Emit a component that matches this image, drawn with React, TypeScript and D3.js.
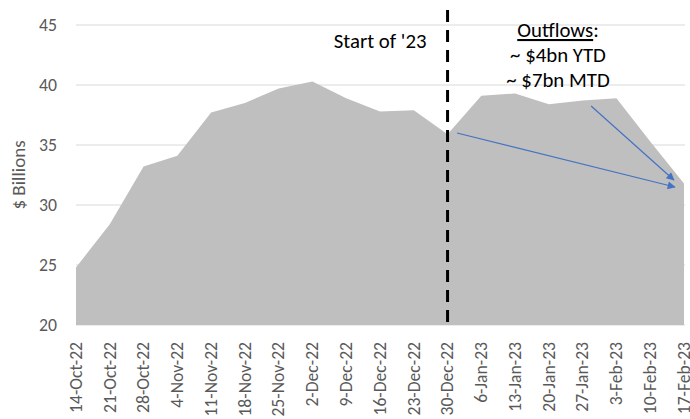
import React from "react";
import * as d3 from "d3";

const dates = ["14-Oct-22","21-Oct-22","28-Oct-22","4-Nov-22","11-Nov-22","18-Nov-22","25-Nov-22","2-Dec-22","9-Dec-22","16-Dec-22","23-Dec-22","30-Dec-22","6-Jan-23","13-Jan-23","20-Jan-23","27-Jan-23","3-Feb-23","10-Feb-23","17-Feb-23"];
const values = [24.8, 28.4, 33.2, 34.1, 37.7, 38.5, 39.7, 40.3, 38.9, 37.8, 37.9, 35.9, 39.1, 39.3, 38.4, 38.7, 38.9, 35.3, 31.8];
const yTicks = [20, 25, 30, 35, 40, 45];
const yTitle = "$ Billions";
const markerLabel = "Start of '23";
const markerIndex = 11;
const noteLines = ["~ $4bn YTD", "~ $7bn MTD"];
const noteTitle = "Outflows";
// arrows as [fromIndex, fromValue, toIndex, toValue]
const arrows = [
  [11.28, 36.0, 17.73, 31.5],
  [15.25, 38.25, 17.7, 32.08],
];

const W = 690, H = 419;
const FONT = "Carlito, Calibri, Lato, sans-serif";

export default function App() {
  const x = d3.scaleLinear().domain([0, dates.length - 1]).range([76, 684]);
  const y = d3.scaleLinear().domain([20, 45]).range([325, 25]);
  const area = d3.area<number>().x((_, i) => x(i)).y0(y(20)).y1((d) => y(d));
  const grid = "#d9d9d9";
  const txt = "#595959";
  const blue = "#4472C4";
  return (
    <div style={{ position: "absolute", left: 0, top: 0 }}>
      <svg width={W} height={H} style={{ display: "block", fontFamily: FONT }}>
        <defs>
          <marker id="ah" viewBox="0 0 10 10" refX="9" refY="5" markerWidth="11" markerHeight="8" markerUnits="userSpaceOnUse" orient="auto">
            <path d="M0,0 L10,5 L0,10 z" fill={blue} />
          </marker>
        </defs>
        <rect width={W} height={H} fill="#fff" />
        {yTicks.map((t) => (
          <g key={t}>
            <line x1={76} x2={685} y1={y(t)} y2={y(t)} stroke={grid} strokeWidth={1} />
            <text x={57} y={y(t)} dy="0.35em" textAnchor="end" fontSize={17.7} fill={txt}>{t}</text>
          </g>
        ))}
        <path d={area(values) || ""} fill="#bfbfbf" />
        <text transform={`translate(25,${175}) rotate(-90)`} textAnchor="middle" fontSize={19} fill={txt}>{yTitle}</text>
        {dates.map((d, i) => (
          <text key={d} transform={`translate(${x(i)},${342}) rotate(-90)`} dy="0.33em" textAnchor="end" fontSize={17.6} fill={txt}>{d}</text>
        ))}
        <line x1={x(markerIndex)} x2={x(markerIndex)} y1={10} y2={323} stroke="#000" strokeWidth={3} strokeDasharray="12,8" />
        <text x={x(markerIndex) - 21} y={48} textAnchor="end" fontSize={20.8} fill="#000">{markerLabel}</text>
        <text x={558} y={37} textAnchor="middle" fontSize={20.8} fill="#000">
          <tspan textDecoration="underline">{noteTitle}</tspan>:
        </text>
        {noteLines.map((l, i) => (
          <text key={l} x={558} y={62 + i * 25} textAnchor="middle" fontSize={20.8} fill="#000">{l}</text>
        ))}
        {arrows.map((a, i) => (
          <line key={i} x1={x(a[0])} y1={y(a[1])} x2={x(a[2])} y2={y(a[3])} stroke={blue} strokeWidth={1.2} markerEnd="url(#ah)" />
        ))}
      </svg>
    </div>
  );
}
